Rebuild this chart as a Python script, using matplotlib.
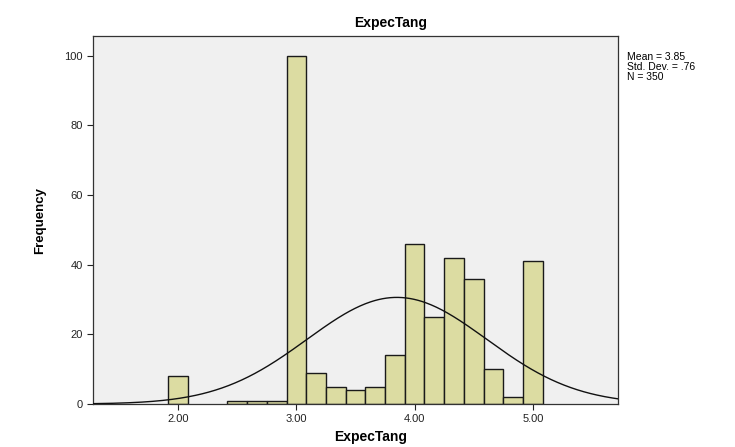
import numpy as np
import matplotlib
matplotlib.use("Agg")
import matplotlib.pyplot as plt

plt.rcParams['font.family'] = ['Liberation Sans', 'DejaVu Sans']

# Data
bin_centers = [2.0, 2.5, 2.6667, 2.8333, 3.0, 3.1667, 3.3333, 3.5, 3.6667,
               3.8333, 4.0, 4.1667, 4.3333, 4.5, 4.6667, 4.8333, 5.0]
counts = [8, 1, 1, 1, 100, 9, 5, 4, 5, 14, 46, 25, 42, 36, 10, 2, 41]
bin_width = 1 / 6
mean_val = 3.85
sd_val = 0.76
n_val = 350
x_ticks = [2.0, 3.0, 4.0, 5.0]
x_tick_labels = ["2.00", "3.00", "4.00", "5.00"]
y_ticks = [0, 20, 40, 60, 80, 100]

W, H = 735, 447
fig = plt.figure(figsize=(W / 100, H / 100), dpi=100)
fig.patch.set_facecolor('white')
left, right, top, bottom = 93, 618, 36, 404
ax = fig.add_axes([left / W, 1 - bottom / H, (right - left) / W, (bottom - top) / H])
ax.set_facecolor('#f0f0f0')

ax.bar(bin_centers, counts, width=bin_width, color='#dcdca2', edgecolor='#1a1a1a',
       linewidth=1.0, zorder=2)

xs = np.linspace(1.28, 5.72, 400)
ys = n_val * bin_width / (sd_val * np.sqrt(2 * np.pi)) * np.exp(-0.5 * ((xs - mean_val) / sd_val) ** 2)
ax.plot(xs, ys, color='#111111', linewidth=1.0, zorder=3)

ax.set_xlim(1.28, 5.72)
ax.set_ylim(0, 105.7)
ax.set_xticks(x_ticks)
ax.set_xticklabels(x_tick_labels)
ax.set_yticks(y_ticks)
ax.tick_params(axis='both', labelsize=8, colors='#222222', length=4, width=0.8, direction='out')
for s in ax.spines.values():
    s.set_color('#333333')
    s.set_linewidth(0.9)

fig.text(391 / W, 1 - 23 / H, "ExpecTang", ha='center', va='center', fontsize=10, fontweight='bold')
fig.text(371 / W, 1 - 437 / H, "ExpecTang", ha='center', va='center', fontsize=10, fontweight='bold')
fig.text(40 / W, 1 - 220 / H, "Frequency", ha='center', va='center', fontsize=9.5,
         fontweight='bold', rotation=90)
fig.text(627 / W, 1 - 67 / H, f"Mean = {mean_val:.2f}\nStd. Dev. = .76\nN = {n_val}",
         ha='left', va='center', fontsize=7.5, linespacing=0.95)

fig.savefig("out.png", dpi=100)
